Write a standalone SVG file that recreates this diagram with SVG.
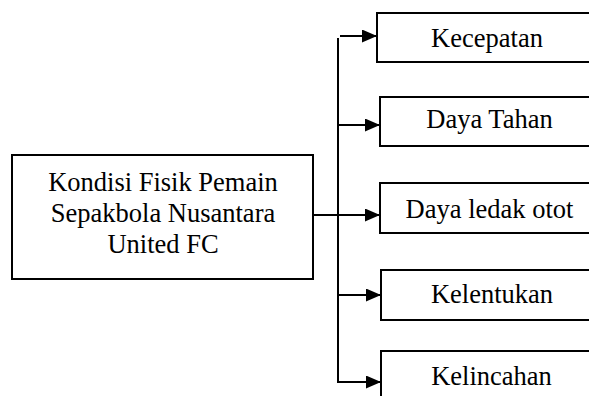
<svg xmlns="http://www.w3.org/2000/svg" width="589" height="396" viewBox="0 0 589 396">
<style>
.box{fill:#fff;stroke:#000;stroke-width:2}
.c{fill:none;stroke:#000;stroke-width:2}
</style>
<defs>
<marker id="ah" markerWidth="15" markerHeight="13" refX="15" refY="6.5" orient="auto" markerUnits="userSpaceOnUse">
<path d="M0,0 L15,6.5 L0,13 Z" fill="#000"/>
</marker>
</defs>
<rect width="589" height="396" fill="#fff"/>
<g id="main">
<rect class="box" x="12" y="155" width="301" height="124"/>
<text x="163" y="191" font-family="Liberation Serif" font-size="26.5" text-anchor="middle">Kondisi Fisik Pemain</text>
<text x="163" y="222" font-family="Liberation Serif" font-size="26.5" text-anchor="middle">Sepakbola Nusantara</text>
<text x="163" y="253" font-family="Liberation Serif" font-size="26.5" text-anchor="middle">United FC</text>
</g>
<g id="kecepatan">
<rect class="box" x="377" y="13" width="230" height="49"/>
<text x="487" y="47" font-family="Liberation Serif" font-size="26.5" text-anchor="middle">Kecepatan</text>
</g>
<g id="daya-tahan">
<rect class="box" x="380" y="97" width="230" height="49"/>
<text x="489.5" y="128" font-family="Liberation Serif" font-size="26.5" text-anchor="middle">Daya Tahan</text>
</g>
<g id="daya-ledak">
<rect class="box" x="380" y="183" width="230" height="50"/>
<text x="489.5" y="218" font-family="Liberation Serif" font-size="26.5" text-anchor="middle">Daya ledak otot</text>
</g>
<g id="kelentukan">
<rect class="box" x="381" y="270" width="230" height="50"/>
<text x="492" y="303" font-family="Liberation Serif" font-size="26.5" text-anchor="middle">Kelentukan</text>
</g>
<g id="kelincahan">
<rect class="box" x="381" y="351" width="230" height="60"/>
<text x="491.5" y="385" font-family="Liberation Serif" font-size="26.5" text-anchor="middle">Kelincahan</text>
</g>
<g id="connectors">
<line class="c" x1="338" y1="38" x2="338" y2="382"/>
<line class="c" x1="340" y1="36" x2="377" y2="36" marker-end="url(#ah)"/>
<line class="c" x1="338" y1="125" x2="380" y2="125" marker-end="url(#ah)"/>
<line class="c" x1="313" y1="215" x2="380" y2="215" marker-end="url(#ah)"/>
<line class="c" x1="338" y1="295" x2="381" y2="295" marker-end="url(#ah)"/>
<line class="c" x1="337" y1="382" x2="381" y2="382" marker-end="url(#ah)"/>
</g>
</svg>
